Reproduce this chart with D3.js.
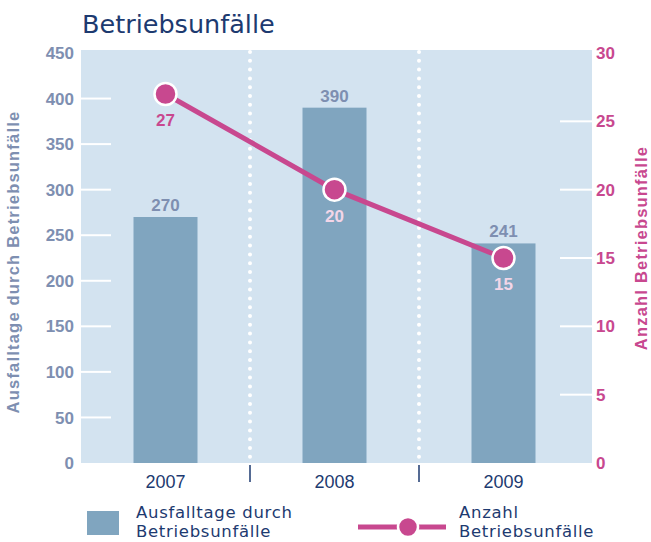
<!DOCTYPE html>
<html>
<head>
<meta charset="utf-8">
<script src="https://cdn.jsdelivr.net/npm/d3@7"></script>
<style>
  body { margin: 0; background: #fff; }
  svg { font-family: "Liberation Sans", Arial, sans-serif; }
</style>
</head>
<body>
<svg width="651" height="542"></svg>
<script>
// chart data
const years = ['2007', '2008', '2009'];
const ausfalltage = [270, 390, 241];
const unfaelle = [27, 20, 15];
const leftTicks = [0, 50, 100, 150, 200, 250, 300, 350, 400, 450];
const rightTicks = [0, 5, 10, 15, 20, 25, 30];

const svg = d3.select('svg');
const plotLeft = 81, plotRight = 592, plotTop = 50, plotBottom = 463;
const width = plotRight - plotLeft;
const height = plotBottom - plotTop;

const colBg = '#d3e3f0';
const colBar = '#80a5bf';
const colPink = '#c8488f';
const colGrey = '#7e8fb1';
const colNavy = '#1d3a70';
const wideFont = '"DejaVu Sans", sans-serif';

const g = svg.append('g').attr('transform', 'translate(' + plotLeft + ',' + plotTop + ')');

// band scale runs a bit short of the right edge so bars sit like the original
const x = d3.scaleBand().domain(years).range([0, width - 4]).padding(0);
const yL = d3.scaleLinear().domain([0, 450]).range([height, 3]);
const yR = d3.scaleLinear().domain([0, 30]).range([height, 3]);
const barW = 64;
const cx = i => x(years[i]) + x.bandwidth() / 2;

// title
svg.append('text')
    .attr('x', 82).attr('y', 33)
    .attr('font-family', wideFont)
    .attr('font-size', 25.5)
    .attr('fill', colNavy)
    .text('Betriebsunfälle');

// plot background
g.append('rect')
    .attr('width', width).attr('height', height)
    .attr('fill', colBg);

// white tick marks inside plot
g.selectAll('.tl')
    .data(leftTicks.filter(d => d > 0 && d < 450))
    .enter().append('line')
    .attr('x1', 0).attr('x2', 30)
    .attr('y1', d => yL(d)).attr('y2', d => yL(d))
    .attr('stroke', '#fff').attr('stroke-width', 2);

g.selectAll('.tr')
    .data(rightTicks.filter(d => d > 0 && d < 30))
    .enter().append('line')
    .attr('x1', width - 32).attr('x2', width)
    .attr('y1', d => yR(d)).attr('y2', d => yR(d))
    .attr('stroke', '#fff').attr('stroke-width', 2);

// dotted separators
const seps = years.slice(1).map(d => x(d));
g.selectAll('.sep')
    .data(seps)
    .enter().append('line')
    .attr('x1', d => d).attr('x2', d => d)
    .attr('y1', 2).attr('y2', height)
    .attr('stroke', '#fff').attr('stroke-width', 4)
    .attr('stroke-linecap', 'round')
    .attr('stroke-dasharray', '0,8.8');

g.selectAll('.sepTick')
    .data(seps)
    .enter().append('line')
    .attr('x1', d => d).attr('x2', d => d)
    .attr('y1', height + 2).attr('y2', height + 19)
    .attr('stroke', colNavy).attr('stroke-width', 1.5);

// bars
g.selectAll('.bar')
    .data(ausfalltage)
    .enter().append('rect')
    .attr('x', (d, i) => cx(i) - barW / 2)
    .attr('y', d => yL(d))
    .attr('width', barW)
    .attr('height', d => height - yL(d))
    .attr('fill', colBar);

g.selectAll('.barLabel')
    .data(ausfalltage)
    .enter().append('text')
    .attr('x', (d, i) => cx(i))
    .attr('y', d => yL(d) - 6)
    .attr('text-anchor', 'middle')
    .attr('font-size', 17).attr('font-weight', 'bold')
    .attr('fill', colGrey)
    .text(d => d);

// line
const line = d3.line()
    .x((d, i) => cx(i))
    .y(d => yR(d));

g.append('path')
    .datum(unfaelle)
    .attr('d', line)
    .attr('fill', 'none')
    .attr('stroke', colPink).attr('stroke-width', 5);

g.selectAll('.pt')
    .data(unfaelle)
    .enter().append('circle')
    .attr('cx', (d, i) => cx(i))
    .attr('cy', d => yR(d))
    .attr('r', 11)
    .attr('fill', colPink)
    .attr('stroke', '#fff').attr('stroke-width', 2.5);

g.selectAll('.ptLabel')
    .data(unfaelle)
    .enter().append('text')
    .attr('x', (d, i) => cx(i))
    .attr('y', d => yR(d) + 32)
    .attr('text-anchor', 'middle')
    .attr('font-size', 17).attr('font-weight', 'bold')
    .attr('fill', (d, i) => i === 0 ? colPink : '#f3d6e8')
    .text(d => d);

// axis tick labels
g.selectAll('.ll')
    .data(leftTicks)
    .enter().append('text')
    .attr('x', -7)
    .attr('y', d => yL(d))
    .attr('dy', '0.36em')
    .attr('text-anchor', 'end')
    .attr('font-size', 17).attr('font-weight', 'bold')
    .attr('fill', colGrey)
    .text(d => d);

g.selectAll('.rl')
    .data(rightTicks)
    .enter().append('text')
    .attr('x', width + 4)
    .attr('y', d => yR(d))
    .attr('dy', '0.36em')
    .attr('font-size', 17).attr('font-weight', 'bold')
    .attr('fill', colPink)
    .text(d => d);

// year labels
g.selectAll('.year')
    .data(years)
    .enter().append('text')
    .attr('x', d => x(d) + x.bandwidth() / 2)
    .attr('y', height + 25)
    .attr('text-anchor', 'middle')
    .attr('font-size', 18)
    .attr('fill', colNavy)
    .text(d => d);

// axis titles
svg.append('text')
    .attr('transform', 'translate(19,262) rotate(-90)')
    .attr('text-anchor', 'middle')
    .attr('font-size', 16.5).attr('font-weight', 'bold')
    .attr('letter-spacing', 1.2)
    .attr('fill', colGrey)
    .text('Ausfalltage durch Betriebsunfälle');

svg.append('text')
    .attr('transform', 'translate(647,248) rotate(-90)')
    .attr('text-anchor', 'middle')
    .attr('font-size', 16.5).attr('font-weight', 'bold')
    .attr('letter-spacing', 1.2)
    .attr('fill', colPink)
    .text('Anzahl Betriebsunfälle');

// legend
const leg = svg.append('g')
    .attr('font-family', wideFont)
    .attr('font-size', 16.5)
    .attr('letter-spacing', 0.7)
    .attr('fill', colNavy);

leg.append('rect')
    .attr('x', 87).attr('y', 511).attr('width', 32).attr('height', 24)
    .attr('fill', colBar);
leg.append('text')
    .selectAll('tspan')
    .data(['Ausfalltage durch', 'Betriebsunfälle'])
    .enter().append('tspan')
    .attr('x', 136).attr('y', (d, i) => 517.5 + i * 19.5)
    .text(d => d);

leg.append('line')
    .attr('x1', 358).attr('x2', 446).attr('y1', 527).attr('y2', 527)
    .attr('stroke', colPink).attr('stroke-width', 5);
leg.append('circle')
    .attr('cx', 408).attr('cy', 527).attr('r', 10)
    .attr('fill', colPink)
    .attr('stroke', '#fff').attr('stroke-width', 2.5);
leg.append('text')
    .selectAll('tspan')
    .data(['Anzahl', 'Betriebsunfälle'])
    .enter().append('tspan')
    .attr('x', 459).attr('y', (d, i) => 517.5 + i * 19.5)
    .text(d => d);
</script>
</body>
</html>
